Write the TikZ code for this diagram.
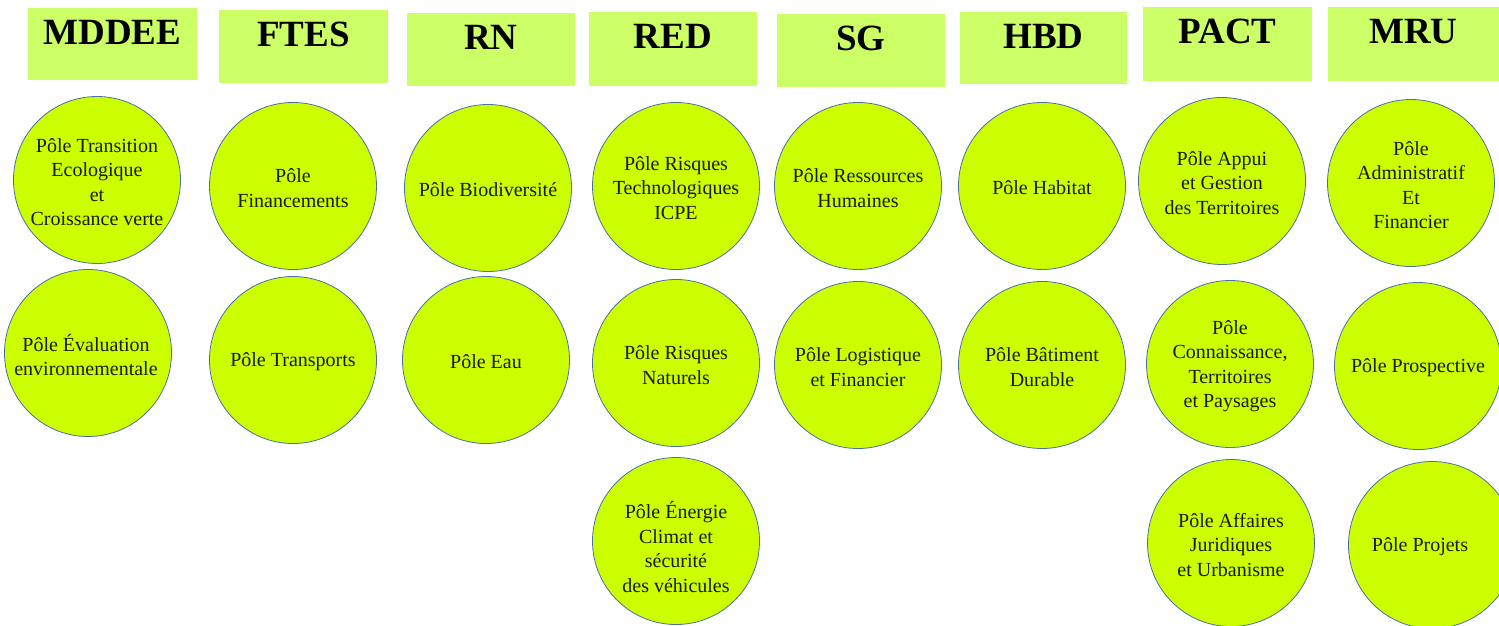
\documentclass[tikz,border=0pt]{standalone}
\usepackage{fontspec}
\setmainfont{Liberation Serif}
\definecolor{headfill}{HTML}{CCFF66}
\definecolor{polefill}{HTML}{CCFF00}
\definecolor{poleline}{HTML}{4A6FA5}
\definecolor{poleink}{HTML}{1A1A00}
\begin{document}
\begin{tikzpicture}[x=1pt,y=-1pt,
  headbox/.style={fill=headfill,draw=none},
  headtext/.style={anchor=base,font=\fontsize{37}{40}\selectfont\bfseries,inner sep=0pt},
  pole/.style={circle,fill=polefill,draw=poleline,line width=0.8pt,minimum size=167pt,inner sep=0pt},
  poletext/.style={align=center,font=\fontsize{20}{24.5}\selectfont,inner sep=0pt,text=poleink,yshift=-2pt}]
\path[use as bounding box] (0,0) rectangle (1499,625);
\clip (0,0) rectangle (1499,625);
\fill[white] (0,0) rectangle (1499,625);
% headers
\foreach \n/\xa/\ya/\xb/\yb/\t in {hm/28/8/197/80/MDDEE, hf/219/10/388/83/FTES, hr/407/13/575/86/RN, hd/589/12/757/86/RED, hs/777/14/945/87/SG, hh/960/12/1127/84/HBD, hp/1143/7/1312/81/PACT, hu/1328/7/1499/81/MRU}{
  \path[headbox] (\xa,\ya) rectangle (\xb,\yb);
  \node[headtext] (\n) at ({(\xa+\xb)/2},{\ya+36}) {\t};
}
% circles
\node[pole] (m1) at (97,180) {};
\node[pole] (m2) at (88,353) {};
\node[pole] (f1) at (293,186) {};
\node[pole] (f2) at (293,360) {};
\node[pole] (r1) at (488,188) {};
\node[pole] (r2) at (486,360) {};
\node[pole] (d1) at (676,186) {};
\node[pole] (d2) at (676,363) {};
\node[pole] (d3) at (676,541) {};
\node[pole] (s1) at (858,186) {};
\node[pole] (s2) at (858,365) {};
\node[pole] (h1) at (1042,186) {};
\node[pole] (h2) at (1042,365) {};
\node[pole] (p1) at (1222,181) {};
\node[pole] (p2) at (1230,364) {};
\node[pole] (p3) at (1231,543) {};
\node[pole] (u1) at (1411,183) {};
\node[pole] (u2) at (1418,366) {};
\node[pole] (u3) at (1432,545) {};
% texts
\node[poletext] (tm1) at (m1) {Pôle Transition\\Ecologique\\et\\Croissance verte};
\node[poletext] (tm2) at ([xshift=-2pt]m2) {Pôle Évaluation\\environnementale};
\node[poletext] (tf1) at (f1) {Pôle\\Financements};
\node[poletext] (tf2) at (f2) {Pôle Transports};
\node[poletext] (tr1) at (r1) {Pôle Biodiversité};
\node[poletext] (tr2) at (r2) {Pôle Eau};
\node[poletext] (td1) at (d1) {Pôle Risques\\Technologiques\\ICPE};
\node[poletext] (td2) at (d2) {Pôle Risques\\Naturels};
\node[poletext,yshift=-4pt] (td3) at (d3) {Pôle Énergie\\Climat et\\sécurité\\des véhicules};
\node[poletext] (ts1) at (s1) {Pôle Ressources\\Humaines};
\node[poletext] (ts2) at (s2) {Pôle Logistique\\et Financier};
\node[poletext] (th1) at (h1) {Pôle Habitat};
\node[poletext] (th2) at (h2) {Pôle Bâtiment\\Durable};
\node[poletext] (tp1) at (p1) {Pôle Appui\\et Gestion\\des Territoires};
\node[poletext] (tp2) at (p2) {Pôle\\Connaissance,\\Territoires\\et Paysages};
\node[poletext] (tp3) at (p3) {Pôle Affaires\\Juridiques\\et Urbanisme};
\node[poletext] (tu1) at (u1) {Pôle\\Administratif\\Et\\Financier};
\node[poletext] (tu2) at (u2) {Pôle Prospective};
\node[poletext] (tu3) at ([xshift=-12pt]u3) {Pôle Projets};
\end{tikzpicture}
\end{document}
